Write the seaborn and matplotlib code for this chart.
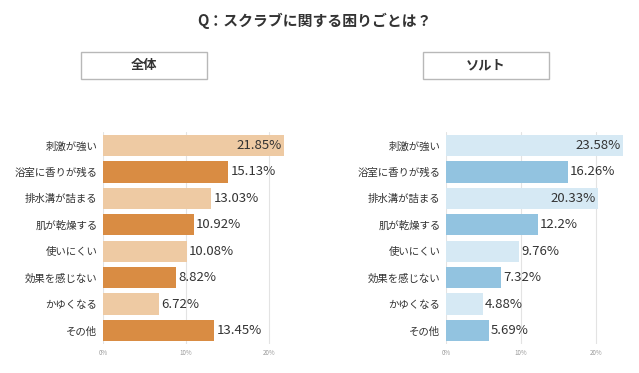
import pandas as pd
import seaborn as sns
import matplotlib.pyplot as plt
from matplotlib.patches import Rectangle
from matplotlib.ticker import FuncFormatter

# Data
categories = ["刺激が強い", "浴室に香りが残る", "排水溝が詰まる", "肌が乾燥する",
              "使いにくい", "効果を感じない", "かゆくなる", "その他"]
overall_values = [21.85, 15.13, 13.03, 10.92, 10.08, 8.82, 6.72, 13.45]
salt_values = [23.58, 16.26, 20.33, 12.2, 9.76, 7.32, 4.88, 5.69]
panel_titles = ["全体", "ソルト"]
title = "Q：スクラブに関する困りごとは？"

sns.set_style("white")
plt.rcParams["font.family"] = ["Noto Sans CJK JP", "DejaVu Sans"]

fig = plt.figure(figsize=(6.39, 3.73), dpi=100)
W, H = 639, 373


def px_axes(x0, x1, y0, y1):
    return fig.add_axes([x0 / W, 1 - y1 / H, (x1 - x0) / W, (y1 - y0) / H])


def draw_panel(ax, values, colors, xmax):
    df = pd.DataFrame({"cat": categories, "val": values,
                       "shade": [i % 2 for i in range(len(values))]})
    sns.barplot(data=df, y="cat", x="val", hue="shade", palette=colors,
                saturation=1, linewidth=0, dodge=False, legend=False,
                width=0.8, ax=ax, zorder=2)
    ax.set_xlim(0, xmax)
    ax.set_xticks([0, 10, 20])
    ax.xaxis.set_major_formatter(FuncFormatter(lambda v, p: f"{v:.0f}%"))
    ax.tick_params(axis="x", labelsize=4.5, colors="#999999", length=0, pad=4)
    ax.tick_params(axis="y", labelsize=7.5, colors="#333333", length=0, pad=4)
    ax.set_xlabel("")
    ax.set_ylabel("")
    ax.grid(axis="x", color="#e3e3e3", linewidth=0.8, zorder=0)
    for s in ax.spines.values():
        s.set_visible(False)
    for i, v in enumerate(values):
        txt = f"{v}%"
        if v > 0.8 * xmax:
            ax.text(v - 0.3, i, txt, ha="right", va="center", fontsize=9.5,
                    color="#333333", zorder=3)
        else:
            ax.text(v + 0.3, i, txt, ha="left", va="center", fontsize=9.5,
                    color="#333333", zorder=3)


ax1 = px_axes(103, 287, 132.3, 343.7)
draw_panel(ax1, overall_values, ["#eecaa3", "#d98c43"], 22.2)
ax2 = px_axes(446, 624.5, 132.3, 343.7)
draw_panel(ax2, salt_values, ["#d6e9f4", "#92c3e0"], 23.8)

fig.text(314 / W, 1 - 21 / H, title, ha="center", va="center",
         fontsize=10.7, fontweight="bold", color="#333333")

for (bx, label) in zip([81, 423], panel_titles):
    fig.patches.append(Rectangle((bx / W, 1 - 79 / H), 126 / W, 27 / H,
                                 transform=fig.transFigure, fill=False,
                                 edgecolor="#b8b8b8", linewidth=1))
    fig.text((bx + 63) / W, 1 - 65 / H, label, ha="center", va="center",
             fontsize=9.5, fontweight="bold", color="#333333")

fig.savefig("out.png", dpi=100)
